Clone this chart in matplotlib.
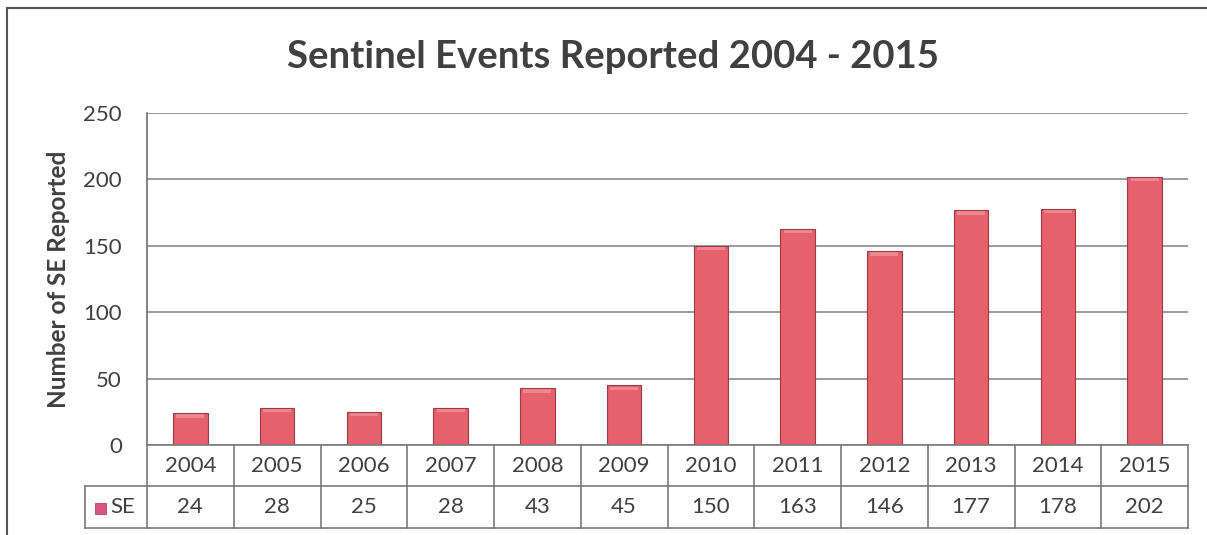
#!/usr/bin/env python3
"""Sentinel events reported per year, Excel-style column chart with data table."""

import matplotlib.pyplot as plt
from matplotlib.lines import Line2D
from matplotlib.patches import Rectangle

years = ["2004", "2005", "2006", "2007", "2008", "2009",
         "2010", "2011", "2012", "2013", "2014", "2015"]
se_counts = [24, 28, 25, 28, 43, 45, 150, 163, 146, 177, 178, 202]
y_ticks = [0, 50, 100, 150, 200, 250]

BAR_COLOR = "#E4616D"
BAR_EDGE = "#9C3B42"
TEXT_COLOR = "#404040"
GRID_COLOR = "#8C8C8C"
FONT = "Lato"

W, H = 1207, 535
fig = plt.figure(figsize=(W / 100, H / 100), dpi=100)
fig.patch.set_facecolor("white")


def fx(px):
    return px / W


def fy(py):
    return 1 - py / H


# plot area in pixel coords
left, right, top, bottom = 147, 1188, 113, 445
ax = fig.add_axes([fx(left), fy(bottom), fx(right - left), (bottom - top) / H])

x = list(range(len(years)))
ax.bar(x, se_counts, width=0.40, color=BAR_COLOR, edgecolor=BAR_EDGE,
       linewidth=0.8, zorder=3)
# soft highlight along the top of each bar
for xi, v in zip(x, se_counts):
    ax.add_patch(Rectangle((xi - 0.16, v - 3.5), 0.32, 2.5, color="#F2A0A6",
                           alpha=0.6, lw=0, zorder=4))

ax.set_xlim(-0.5, len(years) - 0.5)
ax.set_ylim(0, 250)
ax.set_yticks(y_ticks)
ax.set_yticklabels([str(t) for t in y_ticks], fontsize=16, color=TEXT_COLOR,
                   family=FONT)
ax.tick_params(axis="y", length=0, pad=18)
ax.set_xticks([])
ax.grid(axis="y", color=GRID_COLOR, linewidth=1.2, zorder=0)
for side in ["top", "right", "bottom"]:
    ax.spines[side].set_visible(False)
ax.spines["left"].set_color("#6E6E6E")
ax.spines["left"].set_linewidth(1.2)

fig.text(fx(59), fy(279), "Number of SE Reported", rotation=90,
         ha="center", va="center", fontsize=17.5, fontweight="bold",
         color=TEXT_COLOR, family=FONT)

fig.text(fx(613), fy(57), "Sentinel Events Reported 2004 - 2015",
         ha="center", va="center", fontsize=27.5, fontweight="bold",
         color=TEXT_COLOR, family=FONT)

# data table under the plot
row1_top, row_mid, row2_bot = 445, 486, 528
legend_left = 85
col_w = (right - left) / len(years)
line_kw = dict(color="#7A7A7A", linewidth=1.2)


def hline(x0, x1, y):
    fig.add_artist(Line2D([fx(x0), fx(x1)], [fy(y), fy(y)], **line_kw))


def vline(xp, y0, y1):
    fig.add_artist(Line2D([fx(xp), fx(xp)], [fy(y0), fy(y1)], **line_kw))


hline(left, right, row1_top)
hline(legend_left, right, row_mid)
hline(legend_left, right, row2_bot)
vline(legend_left, row_mid, row2_bot)
for i in range(len(years) + 1):
    vline(left + i * col_w, row1_top, row2_bot)

for i, (yr, v) in enumerate(zip(years, se_counts)):
    cx = left + (i + 0.5) * col_w
    fig.text(fx(cx), fy((row1_top + row_mid) / 2), yr, ha="center",
             va="center", fontsize=16, color=TEXT_COLOR, family=FONT)
    fig.text(fx(cx), fy((row_mid + row2_bot) / 2), str(v), ha="center",
             va="center", fontsize=16, color=TEXT_COLOR, family=FONT)

# legend key inside the table
fig.add_artist(Rectangle((fx(95), fy(514)), fx(11), 11 / H,
                         facecolor="#D9577F", edgecolor="#B04060", lw=0.6))
fig.text(fx(110), fy((row_mid + row2_bot) / 2), "SE", ha="left", va="center",
         fontsize=16, color=TEXT_COLOR, family=FONT)

# outer chart border
fig.add_artist(Line2D([fx(7), fx(7)], [fy(8), 0], color="#555555", lw=1.5))
fig.add_artist(Line2D([fx(7), 1], [fy(8), fy(8)], color="#555555", lw=1.5))

fig.savefig("out.png", dpi=100)
